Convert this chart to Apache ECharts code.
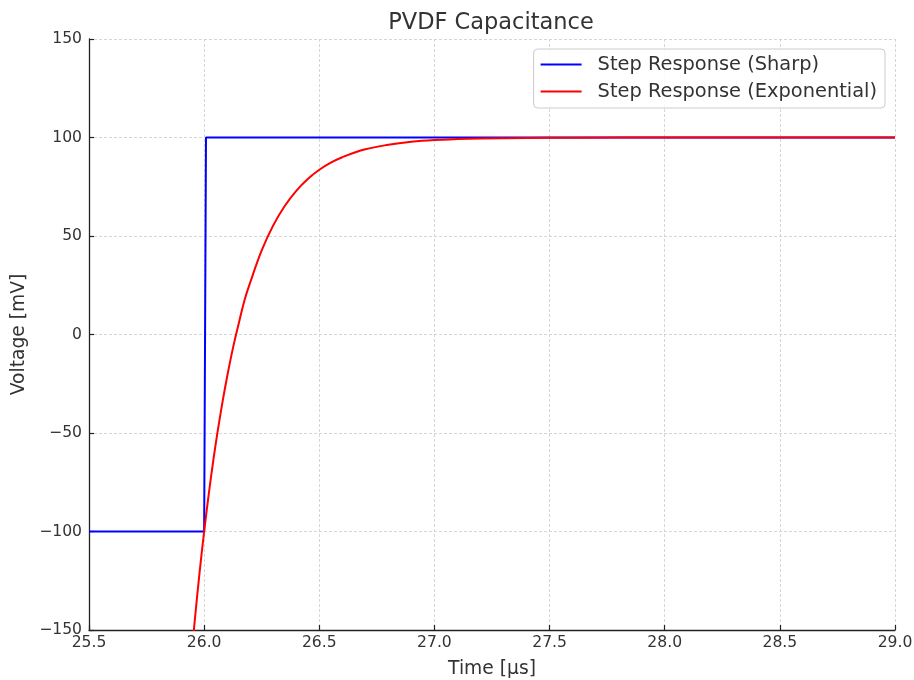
<!DOCTYPE html>
<html>
<head>
<meta charset="utf-8">
<script src="https://cdn.jsdelivr.net/npm/echarts@6/dist/echarts.min.js"></script>
<style>
  html, body { margin: 0; padding: 0; background: #fff; }
  #chart { width: 914px; height: 680px; }
</style>
</head>
<body>
<div id="chart"></div>
<script>
// Time axis samples [µs] and voltages [mV]
const sharpTime = [25.5, 26.0, 26.008, 29.0];
const sharpVolt = [-100, -100, 100, 100];

const expTime = [25.92, 25.94, 25.96, 25.98, 26.00, 26.02, 26.04, 26.06, 26.08, 26.10,
                 26.125, 26.15, 26.175, 26.20, 26.25, 26.30, 26.35, 26.40, 26.45, 26.50,
                 26.55, 26.60, 26.70, 26.80, 26.90, 27.00, 27.10, 27.20, 27.40, 27.60,
                 28.00, 28.50, 29.00];
const expVolt = [-198, -170, -144.3, -121.0, -100, -81.0, -63.7, -48.2, -34.1, -21.3,
                 -6.9, 5.5, 17.3, 26.4, 42.7, 55.4, 65.2, 72.9, 78.9, 83.6,
                 87.2, 90.0, 94.0, 96.3, 97.8, 98.7, 99.2, 99.5, 99.8, 99.9,
                 100, 100, 100];

const xTicks = [25.5, 26.0, 26.5, 27.0, 27.5, 28.0, 28.5, 29.0];
const yTicks = [-150, -100, -50, 0, 50, 100, 150];

const FONT = 'DejaVu Sans';
const TXT = '#333333';
const AXIS = '#222222';
const GRID = { color: '#cccccc', type: [3, 2], width: 0.8 };

function pairs(xs, ys) { return xs.map((x, i) => [x, ys[i]]); }
function minus(v) { return String(v).replace('-', '\u2212'); }

const chart = echarts.init(document.getElementById('chart'), null, { renderer: 'canvas' });
chart.setOption({
  animation: false,
  backgroundColor: '#ffffff',
  title: {
    text: 'PVDF Capacitance',
    left: 486, top: 7, textAlign: 'center',
    textStyle: { fontFamily: FONT, fontSize: 22.5, fontWeight: 'normal', color: TXT }
  },
  legend: {
    orient: 'vertical',
    right: 29, top: 49,
    padding: [6, 8, 7, 7],
    itemGap: 8,
    itemWidth: 41, itemHeight: 2,
    icon: 'rect',
    backgroundColor: 'rgba(255,255,255,0.85)',
    borderColor: '#cccccc', borderWidth: 1, borderRadius: 4,
    textStyle: { fontFamily: FONT, fontSize: 19.4, color: TXT, padding: [0, 0, 0, 11] },
    data: ['Step Response (Sharp)', 'Step Response (Exponential)']
  },
  grid: { left: 89, right: 19, top: 39, bottom: 50, containLabel: false, outerBoundsMode: 'none' },
  xAxis: {
    type: 'value',
    min: xTicks[0], max: xTicks[xTicks.length - 1], interval: 0.5,
    name: 'Time [µs]', nameLocation: 'middle', nameGap: 30,
    nameTextStyle: { fontFamily: FONT, fontSize: 18.7, color: TXT },
    axisLine: { show: true, onZero: false, lineStyle: { color: AXIS, width: 1.3 } },
    axisTick: { show: true, inside: true, length: 5, lineStyle: { color: AXIS, width: 1.2 } },
    axisLabel: { fontFamily: FONT, fontSize: 15.6, color: TXT, margin: 5,
      formatter: v => minus(v.toFixed(1)) },
    splitLine: { show: true, lineStyle: GRID }
  },
  yAxis: {
    type: 'value',
    min: yTicks[0], max: yTicks[yTicks.length - 1], interval: 50,
    name: 'Voltage [mV]', nameLocation: 'middle', nameGap: 55, nameRotate: 90,
    nameTextStyle: { fontFamily: FONT, fontSize: 18.7, color: TXT },
    axisLine: { show: true, onZero: false, lineStyle: { color: AXIS, width: 1.3 } },
    axisTick: { show: true, inside: true, length: 5, lineStyle: { color: AXIS, width: 1.2 } },
    axisLabel: { fontFamily: FONT, fontSize: 15.6, color: TXT, margin: 7,
      formatter: v => minus(v) },
    splitLine: { show: true, lineStyle: GRID }
  },
  series: [
    {
      name: 'Step Response (Sharp)', type: 'line',
      data: pairs(sharpTime, sharpVolt),
      symbol: 'none', clip: true,
      lineStyle: { color: '#0000ff', width: 2 }, itemStyle: { color: '#0000ff' }
    },
    {
      name: 'Step Response (Exponential)', type: 'line',
      data: pairs(expTime, expVolt),
      symbol: 'none', clip: true, smooth: 0.4,
      lineStyle: { color: '#ff0000', width: 2 }, itemStyle: { color: '#ff0000' }
    }
  ]
});
</script>
</body>
</html>
